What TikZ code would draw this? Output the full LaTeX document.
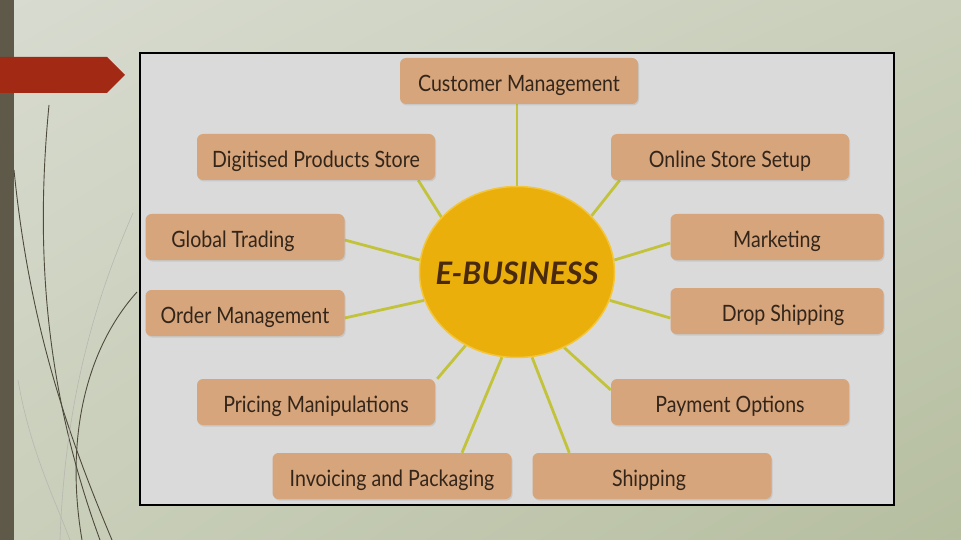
\documentclass[tikz,border=0pt]{standalone}
\usepackage{fontspec}
\setmainfont{Lato}[FakeStretch=0.87]
\newfontfamily\ebfont{Lato}
\usetikzlibrary{shapes.geometric,calc,shadows,shadings}
\definecolor{boxc}{HTML}{D6A57B}
\definecolor{txtc}{HTML}{33251A}
\definecolor{panelc}{HTML}{DADADA}
\definecolor{linkc}{HTML}{C2C33A}
\definecolor{circc}{HTML}{EAAF0B}
\definecolor{circe}{HTML}{F3C53A}
\definecolor{ebtxt}{HTML}{4A2A0E}
\definecolor{barc}{HTML}{5E5949}
\definecolor{tabc}{HTML}{A22A14}
\definecolor{stemc}{HTML}{4E4A3C}
\definecolor{bgA}{HTML}{D8DBD0}
\definecolor{bgB}{HTML}{C9CFBA}
\definecolor{bgC}{HTML}{B6BEA0}
\pgfdeclarelayer{bg}
\pgfdeclarelayer{lk}
\pgfsetlayers{bg,lk,main}
\begin{document}
\begin{tikzpicture}[x=1pt,y=-1pt,
  topic/.style={fill=boxc, rounded corners=6pt, minimum height=46pt, inner sep=0pt,
    font=\fontsize{22.5}{22.5}\selectfont, text=txtc, text height=25pt, text depth=4pt,
    drop shadow={shadow xshift=1pt, shadow yshift=-1.5pt, opacity=0.2}},
  link/.style={draw=linkc, line width=2.8pt},
  stem/.style={draw=stemc, line width=0.9pt},
  faint/.style={draw=stemc!40, line width=0.6pt}]
\useasboundingbox (0,0) rectangle (961,540);
\begin{pgfonlayer}{bg}
  \shade[upper left=bgA, upper right=bgB, lower left=bgB, lower right=bgC] (0,0) rectangle (961,540);
  \fill[barc] (0,0) rectangle (14,540);
  \fill[tabc] (0,57) -- (107,57) -- (125,75) -- (107,93) -- (0,93) -- cycle;
  \draw[stem] (49,105) .. controls (35,250) and (45,390) .. (100,540);
  \draw[stem] (14,170) .. controls (30,330) and (70,440) .. (112,540);
  \draw[stem] (137,292) .. controls (85,350) and (65,440) .. (82,540);
  \draw[faint] (133,213) .. controls (95,300) and (65,400) .. (60,540);
  \draw[faint] (18,380) .. controls (30,450) and (55,500) .. (70,540);
  \draw[fill=panelc, line width=1.4pt] (140,53) rectangle (894,505);
\end{pgfonlayer}

\node[ellipse, minimum width=195pt, minimum height=171pt, inner sep=0pt,
  fill=circc, draw=circe, line width=1.5pt, text=ebtxt,
  font=\ebfont\fontsize{31}{31}\selectfont\bfseries\itshape] (eb) at (517,272)
  {\raisebox{-13pt}[0pt][0pt]{\makebox[0pt]{E-BUSINESS}}};

\node[topic, minimum width=238pt] (cm)  at (519,81)  {Customer Management};
\node[topic, minimum width=238pt] (dps) at (316,157) {Digitised Products Store};
\node[topic, minimum width=238pt] (os)  at (730,157) {Online Store Setup};
\node[topic, minimum width=199pt] (gt)  at (245,237) {Global Trading\rule{24pt}{0pt}};
\node[topic, minimum width=213pt] (mk)  at (777,237) {Marketing};
\node[topic, minimum width=199pt] (om)  at (245,313) {Order Management};
\node[topic, minimum width=213pt] (ds)  at (777,311) {\rule{12pt}{0pt}Drop Shipping};
\node[topic, minimum width=238pt] (pm)  at (316,402) {Pricing Manipulations};
\node[topic, minimum width=238pt] (po)  at (730,402) {Payment Options};
\node[topic, minimum width=239pt] (ip)  at (392,476) {Invoicing and Packaging};
\node[topic, minimum width=239pt] (sh)  at (652,476) {Shipping\rule{6pt}{0pt}};

\begin{pgfonlayer}{lk}
  \draw[link] (eb.north) -- (eb.north |- cm.south);
  \draw[link] ($(dps.south east)+(-17,0)$) -- (eb.144);
  \draw[link] ($(os.south west)+(9,0)$) -- (eb.37);
  \draw[link] ($(gt.east)+(0,3)$) -- (eb.173);
  \draw[link] ($(mk.west)+(0,6)$) -- (eb.7);
  \draw[link] ($(om.east)+(0,5)$) -- (eb.197);
  \draw[link] ($(ds.west)+(0,7)$) -- (eb.343);
  \draw[link] ($(pm.north east)+(2,0)$) -- (eb.235);
  \draw[link] ($(po.west)+(0,-12)$) -- (eb.302);
  \draw[link] ($(ip.north)+(70,0)$) -- (eb.260);
  \draw[link] ($(sh.north west)+(37,0)$) -- (eb.280);
\end{pgfonlayer}
\end{tikzpicture}
\end{document}
